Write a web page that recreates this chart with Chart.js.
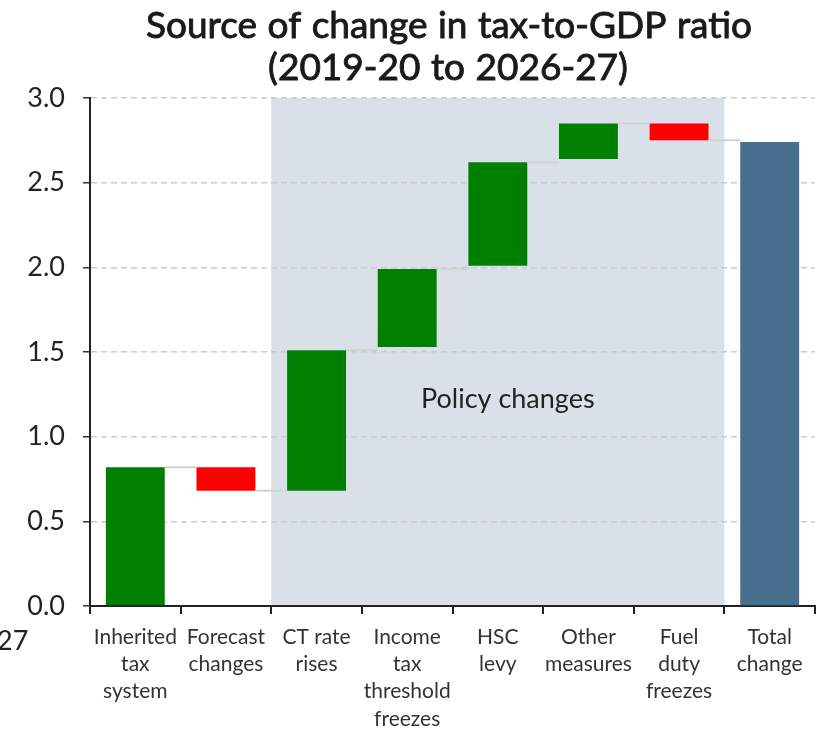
<!DOCTYPE html>
<html>
<head>
<meta charset="utf-8">
<script src="https://cdn.jsdelivr.net/npm/chart.js@4/dist/chart.umd.min.js"></script>
<style>
html,body{margin:0;padding:0;background:#fff;}
#wrap{width:820px;height:737px;position:relative;}
</style>
</head>
<body>
<div id="wrap"><canvas id="c"></canvas></div>
<script>
// ---- data ----
const categories = [
  ["Inherited","tax","system"],
  ["Forecast","changes"],
  ["CT rate","rises"],
  ["Income","tax","threshold","freezes"],
  ["HSC","levy"],
  ["Other","measures"],
  ["Fuel","duty","freezes"],
  ["Total","change"]
];
const barStart = [0, 0.82, 0.68, 1.53, 2.01, 2.64, 2.85, 0];
const barEnd   = [0.82, 0.68, 1.51, 1.99, 2.62, 2.85, 2.75, 2.74];
const barColors = ["#008000","#ff0000","#008000","#008000","#008000","#008000","#ff0000","#47708f"];
const yTicks = [0, 0.5, 1.0, 1.5, 2.0, 2.5, 3.0];
const titleLines = ["Source of change in tax-to-GDP ratio","(2019-20 to 2026-27)"];
const shadeFrom = 2, shadeTo = 6;
const shadeLabel = "Policy changes";
const shadeLabelY = 1.22;

const ranges = barStart.map((s,i)=>[s, barEnd[i]]);

const FONT = "'Lato','Noto Sans',sans-serif";

const deco = {
  id:'deco',
  beforeDraw(chart){
    const {ctx, scales:{x,y}} = chart;
    const w = x.getPixelForValue(1) - x.getPixelForValue(0);
    const x0 = x.getPixelForValue(shadeFrom) - w/2;
    const x1 = x.getPixelForValue(shadeTo) + w/2;
    const yT = y.getPixelForValue(3.0), yB = y.getPixelForValue(0);
    ctx.save();
    ctx.fillStyle = '#d9e0e8';
    ctx.fillRect(x0, yT, x1-x0, yB-yT);
    ctx.restore();
  },
  afterDatasetsDraw(chart){
    const {ctx, scales:{x,y}} = chart;
    const meta = chart.getDatasetMeta(0);
    ctx.save();
    ctx.strokeStyle = '#d2d2d2';
    ctx.lineWidth = 2;
    for(let i=0;i<meta.data.length-1;i++){
      const a = meta.data[i], b = meta.data[i+1];
      const yy = y.getPixelForValue(barEnd[i]);
      ctx.beginPath();
      ctx.moveTo(a.x + a.width/2, yy);
      ctx.lineTo(b.x - b.width/2, yy);
      ctx.stroke();
    }
    // shaded region label
    const cx = (x.getPixelForValue(shadeFrom)+x.getPixelForValue(shadeTo))/2 + 10;
    ctx.fillStyle = '#222';
    ctx.font = "27px " + FONT;
    ctx.textAlign = 'center';
    ctx.textBaseline = 'middle';
    ctx.fillText(shadeLabel, cx, y.getPixelForValue(shadeLabelY));
    // title
    ctx.font = "37px " + FONT;
    try { ctx.wordSpacing = '1px'; } catch(e) {}
    ctx.fillStyle = '#1a1a1a';
    ctx.strokeStyle = '#1a1a1a';
    ctx.lineWidth = 0.9;
    ctx.textBaseline = 'middle';
    ctx.fillText(titleLines[0], 449, 26);
    ctx.strokeText(titleLines[0], 449, 26);
    ctx.fillText(titleLines[1], 448, 68);
    ctx.strokeText(titleLines[1], 448, 68);
    try { ctx.wordSpacing = '0px'; } catch(e) {}
    // clipped leftover label at far left
    ctx.font = "27px " + FONT;
    ctx.textAlign = 'left';
    ctx.fillStyle = '#222';
    ctx.fillText("27", -3, 641);
    ctx.restore();
  }
};

new Chart(document.getElementById('c'), {
  type:'bar',
  data:{
    labels: categories,
    datasets:[{
      data: ranges,
      backgroundColor: barColors,
      borderWidth:0,
      borderSkipped:false,
      barPercentage:0.65,
      categoryPercentage:1.0
    }]
  },
  options:{
    responsive:true,
    maintainAspectRatio:false,
    animation:false,
    layout:{padding:{left:0,right:5,top:98,bottom:0}},
    plugins:{legend:{display:false},tooltip:{enabled:false},title:{display:false}},
    scales:{
      x:{
        offset:true,
        grid:{display:true,drawOnChartArea:false,drawTicks:true,tickLength:8,color:'#222',offset:true,lineWidth:2},
        border:{display:true,color:'#222',width:2},
        ticks:{color:'#333',font:{family:FONT,size:21,lineHeight:1.29},padding:10,maxRotation:0,autoSkip:false},
        afterFit(s){ s.height = 131; }
      },
      y:{
        min:0,max:3.0,
        afterBuildTicks(s){ s.ticks = yTicks.map(v=>({value:v})); },
        grid:{color:'#cccccc',tickColor:'#333',tickLength:7,lineWidth:1.5},
        border:{display:true,color:'#222',width:2,dash:[6,4]},
        ticks:{color:'#222',font:{family:FONT,size:27},padding:18,callback:v=>v.toFixed(1)},
        afterFit(s){ s.width = 90; }
      }
    }
  },
  plugins:[deco]
});
</script>
</body>
</html>
